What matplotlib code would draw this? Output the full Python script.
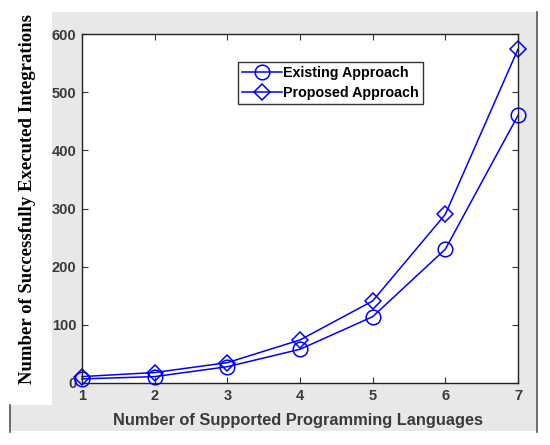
import matplotlib
matplotlib.use("Agg")
import matplotlib.pyplot as plt
from matplotlib.patches import Rectangle
from matplotlib.lines import Line2D

languages = [1, 2, 3, 4, 5, 6, 7]
existing = [7, 11, 28, 58, 114, 230, 460]
proposed = [11, 18, 35, 74, 141, 290, 574]
yticks = [0, 100, 200, 300, 400, 500, 600]

W, H = 550, 445
fig = plt.figure(figsize=(5.5, 4.45), dpi=100, facecolor="white")

def fx(px):
    return px / W

def fy(py):
    return 1 - py / H

gray = "#e8e8e8"
fig.patches.append(Rectangle((fx(52), fy(405)), fx(537) - fx(52), fy(12) - fy(405),
                             transform=fig.transFigure, facecolor=gray, edgecolor="none", zorder=-5))
fig.patches.append(Rectangle((fx(10), fy(431)), fx(537) - fx(10), fy(405) - fy(431),
                             transform=fig.transFigure, facecolor=gray, edgecolor="none", zorder=-5))
fig.lines.append(Line2D([fx(537), fx(537)], [fy(12), fy(432)], transform=fig.transFigure,
                        color="#555555", lw=1.2, zorder=-4))
fig.lines.append(Line2D([fx(10), fx(10)], [fy(405), fy(432)], transform=fig.transFigure,
                        color="#555555", lw=1.2, zorder=-4))

ax = fig.add_axes([fx(82), fy(383), fx(518) - fx(82), fy(34) - fy(383)])
ax.set_zorder(2)
ax.set_facecolor("white")
blue = "#0000ff"
ax.plot(languages, existing, color=blue, lw=1.1, marker="o", ms=10.5, mfc="none", mec=blue, mew=1.1,
        label="Existing Approach", clip_on=False)
ax.plot(languages, proposed, color=blue, lw=1.1, marker="D", ms=8, mfc="none", mec=blue, mew=1.1,
        label="Proposed Approach", clip_on=False)
ax.set_xlim(1, 7)
ax.set_ylim(0, 600)
ax.set_xticks(languages)
ax.set_yticks(yticks)
ax.tick_params(direction="in", top=True, right=True, length=4, width=0.8, colors="#333333",
               labelsize=10.5, pad=4)
for lab in ax.get_xticklabels() + ax.get_yticklabels():
    lab.set_fontweight("bold")
    lab.set_color("#3a3a3a")
    lab.set_family("Liberation Sans")
for s in ax.spines.values():
    s.set_color("#222222")
    s.set_linewidth(1.0)

leg = ax.legend(loc="upper left", bbox_to_anchor=((238 - 82) / (518 - 82), (383 - 62) / (383 - 34)),
                frameon=True, fancybox=False, edgecolor="#333333", framealpha=1,
                prop={"family": "Liberation Sans", "size": 10.3, "weight": "bold"}, handlelength=2.8,
                borderpad=0.3, labelspacing=0.4, handletextpad=0.05, borderaxespad=0)
leg.get_frame().set_linewidth(1.0)

fig.text(fx(298), fy(420), "Number of Supported Programming Languages", ha="center", va="center",
         fontsize=11.8, fontweight="bold", color="#3a3a3a", family="Liberation Sans")
fig.text(fx(28), fy(199), "Number of Successfully Executed Integrations", ha="center", va="center",
         rotation=90, fontsize=13.5, fontweight="bold", color="black", family="Liberation Serif")

fig.savefig("out.png", dpi=100, facecolor="white")
